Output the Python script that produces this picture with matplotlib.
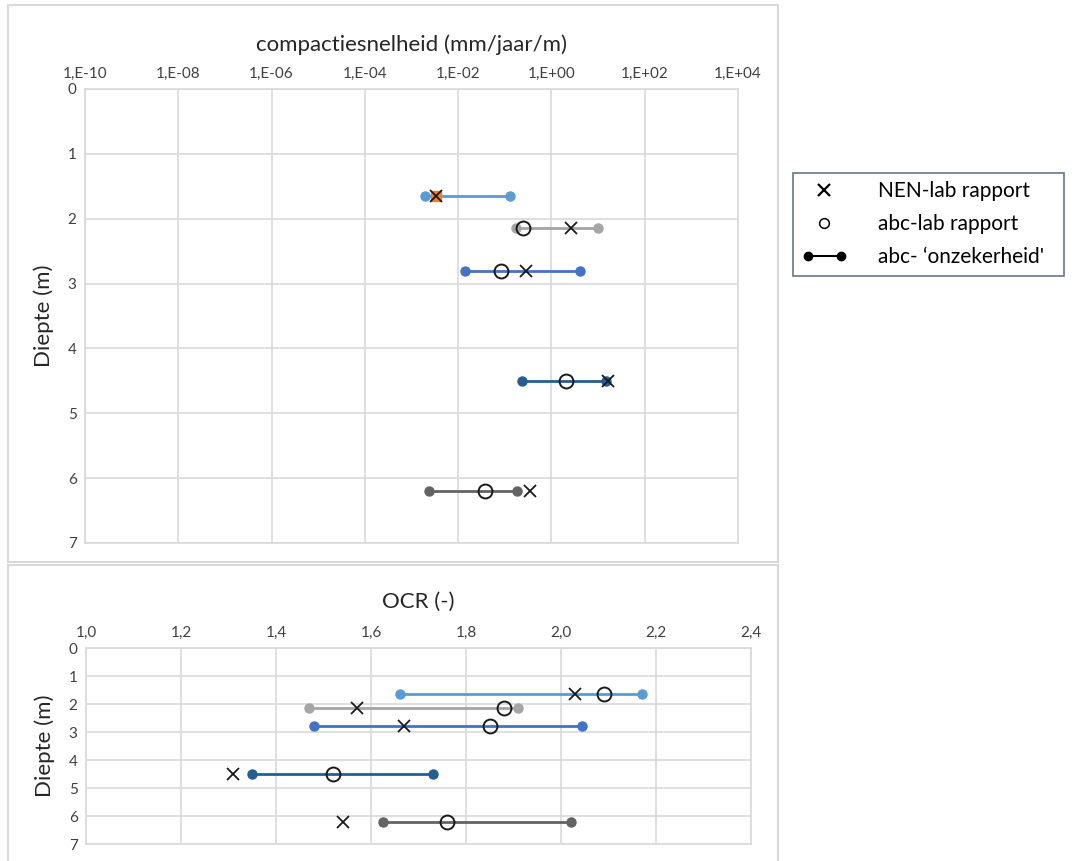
import numpy as np
import matplotlib
matplotlib.use('Agg')
import matplotlib.pyplot as plt
from matplotlib.lines import Line2D
from matplotlib.patches import Rectangle
from matplotlib.legend_handler import HandlerLine2D

plt.rcParams['font.family'] = ['Lato', 'DejaVu Sans']

# depth per sample (m)
depths = [1.65, 2.15, 2.8, 4.5, 6.2]
colors = ['#5B9BD5', '#A5A5A5', '#4472C4', '#255E91', '#636363']

# compactiesnelheid (mm/jaar/m)
comp_low = [1.9e-3, 0.17, 0.014, 0.23, 2.4e-3]
comp_high = [0.13, 10.2, 4.2, 15.0, 0.18]
comp_nen = [3.4e-3, 2.6, 0.29, 16.6, 0.34]
comp_abc = [None, 0.24, 0.085, 2.1, 0.038]
comp_extra = 3.4e-3  # orange point under first cross

# OCR (-)
ocr_low = [1.66, 1.47, 1.48, 1.35, 1.625]
ocr_high = [2.17, 1.91, 2.045, 1.73, 2.02]
ocr_nen = [2.03, 1.57, 1.67, 1.31, 1.54]
ocr_abc = [2.09, 1.88, 1.85, 1.52, 1.76]

log_ticks = [1e-10, 1e-8, 1e-6, 1e-4, 1e-2, 1e0, 1e2, 1e4]
log_labels = ['1,E-10', '1,E-08', '1,E-06', '1,E-04', '1,E-02', '1,E+00', '1,E+02', '1,E+04']
ocr_ticks = [1.0, 1.2, 1.4, 1.6, 1.8, 2.0, 2.2, 2.4]

grid_c = '#D9D9D9'
txt_c = '#404040'

fig = plt.figure(figsize=(10.78, 8.61), dpi=100)

# chart area frames
fig.patches.append(Rectangle((8 / 1078, 1 - 562 / 861), 770 / 1078, 557 / 861,
                             transform=fig.transFigure, fill=False, ec=grid_c, lw=1.5))
fig.patches.append(Rectangle((8 / 1078, -0.01), 770 / 1078, 1 - 565 / 861 + 0.01,
                             transform=fig.transFigure, fill=False, ec=grid_c, lw=1.5))


def style_axes(ax):
    ax.xaxis.tick_top()
    ax.xaxis.set_label_position('top')
    ax.tick_params(length=0, labelsize=11, colors=txt_c, pad=6)
    ax.grid(True, color=grid_c, lw=1.2)
    for s in ax.spines.values():
        s.set_color(grid_c)
        s.set_linewidth(1.2)
    ax.set_ylim(7, 0)
    ax.set_yticks(range(8))
    ax.set_axisbelow(True)


def draw_rows(ax, low, high, nen, abc):
    for d, lo, hi, n, a, c in zip(depths, low, high, nen, abc, colors):
        ax.plot([lo, hi], [d, d], '-o', color=c, lw=2, ms=6.5, zorder=3)
        if a is not None:
            ax.plot(a, d, 'o', mfc='none', mec='#1a1a1a', ms=10, mew=1.4, zorder=4)
        ax.plot(n, d, 'x', color='#1a1a1a', ms=9, mew=1.3, zorder=5)


# top chart
ax1 = fig.add_axes([85 / 1078, 1 - 543 / 861, 653 / 1078, 454 / 861])
ax1.set_xscale('log')
ax1.set_xlim(1e-10, 1e4)
style_axes(ax1)
ax1.set_xticks(log_ticks)
ax1.set_xticklabels(log_labels)
ax1.minorticks_off()
ax1.plot(comp_extra, depths[0], 's', color='#ED7D31', ms=7, zorder=4)
draw_rows(ax1, comp_low, comp_high, comp_nen, comp_abc)
ax1.set_xlabel('compactiesnelheid (mm/jaar/m)', fontsize=16, color='#262626', labelpad=11)
ax1.set_ylabel('Diepte (m)', fontsize=16, color='#262626', labelpad=10)

# bottom chart
ax2 = fig.add_axes([86 / 1078, 1 - 844 / 861, 665 / 1078, 196 / 861])
ax2.set_xlim(1.0, 2.4)
style_axes(ax2)
ax2.set_xticks(ocr_ticks)
ax2.set_xticklabels([f'{t:.1f}'.replace('.', ',') for t in ocr_ticks])
draw_rows(ax2, ocr_low, ocr_high, ocr_nen, ocr_abc)
ax2.set_xlabel('OCR (-)', fontsize=16, color='#262626', labelpad=13)
ax2.set_ylabel('Diepte (m)', fontsize=16, color='#262626', labelpad=10)

# legend
h_nen = Line2D([], [], ls='none', marker='x', color='black', ms=8, mew=1.6)
h_abc = Line2D([], [], ls='none', marker='o', mfc='none', mec='black', ms=7, mew=1.1)
h_rng = Line2D([], [], ls='-', marker='o', color='black', ms=6, lw=1.5)
leg = fig.legend([h_nen, h_abc, h_rng],
                 ['NEN-lab rapport', 'abc-lab rapport', "abc- \u2018onzekerheid'  "],
                 loc='upper left', bbox_to_anchor=(793 / 1078, 1 - 173 / 861),
                 frameon=True, fancybox=False, fontsize=15, handlelength=2.2,
                 borderpad=0.4, labelspacing=0.62, handletextpad=1.5, borderaxespad=0,
                 handler_map={h_rng: HandlerLine2D(numpoints=2)})
leg.get_frame().set_edgecolor('#44546A')
leg.get_frame().set_linewidth(1.2)

fig.savefig('out.png', dpi=100)
